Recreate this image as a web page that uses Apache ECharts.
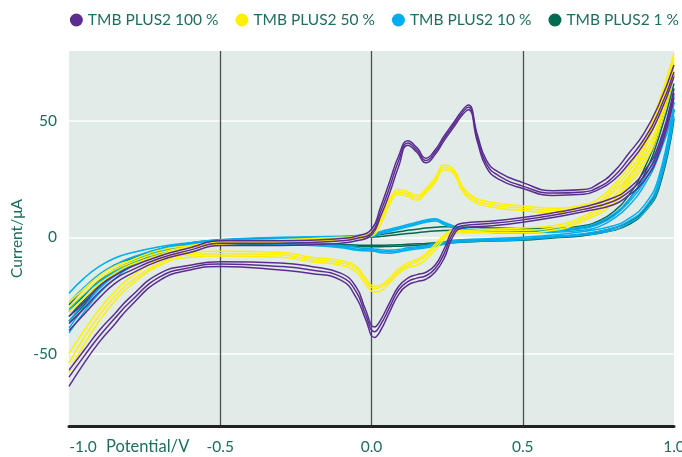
<!DOCTYPE html>
<html>
<head>
<meta charset="utf-8">
<script src="https://cdn.jsdelivr.net/npm/echarts@6/dist/echarts.min.js"></script>
<style>
  html, body { margin: 0; padding: 0; background: #fff; }
  #cv { width: 682px; height: 457px; }
</style>
</head>
<body>
<div id="cv"></div>
<script>
// potentials of the forward (anodic) sweep and the return (cathodic) sweep, V
var potForward = [-1.0, -0.95, -0.9, -0.85, -0.8, -0.7, -0.6, -0.5, -0.3, -0.1, -0.05, 0.0, 0.03, 0.06, 0.09, 0.12, 0.15, 0.18,
  0.21, 0.24, 0.27, 0.30, 0.32, 0.35, 0.38, 0.42, 0.5, 0.6, 0.7, 0.75, 0.8, 0.85, 0.9, 0.95, 1.0];
var potReturn = [1.0, 0.95, 0.9, 0.85, 0.8, 0.7, 0.6, 0.5, 0.4, 0.3, 0.27, 0.24, 0.21, 0.18, 0.15, 0.12, 0.09, 0.06, 0.03, 0.01,
  -0.02, -0.05, -0.1, -0.2, -0.3, -0.5, -0.6, -0.7, -0.8, -0.85, -0.9, -0.95, -1.0];

var seriesNames = ['TMB PLUS2 100 %', 'TMB PLUS2 50 %', 'TMB PLUS2 10 %', 'TMB PLUS2 1 %'];
var seriesColors = ['#5c2d91', '#fff000', '#00aeef', '#006a53'];

// current, µA — one row per cycle
var tmb100Forward = [
  [-34, -28, -21, -16.5, -13, -8, -4.5, -1.5, -1.5, -0.5, 0.5, 3.5, 13, 24, 35, 41.5, 38.5, 34, 37.5, 43.5, 49, 54.5, 56.8, 44, 33, 28, 23.5, 20, 20.5, 23, 28, 36, 44.5, 57, 74],
  [-37, -30.5, -23.5, -18, -14.5, -9, -5.5, -2.5, -2.5, -1.5, -0.5, 2, 11, 21.5, 33, 40.5, 37.5, 33, 36.5, 42.5, 48, 53.5, 55.8, 42.5, 31.5, 26.5, 22, 19, 19.5, 21.5, 26, 33.5, 42, 54, 71],
  [-40, -33, -26, -20, -16, -10, -6.5, -3.5, -3.5, -2.5, -1.5, 1, 9, 19, 30.5, 39.5, 36.5, 32, 35.5, 41.5, 47, 52.5, 54.8, 41, 30, 25, 21, 18, 18.5, 20.5, 24.5, 31.5, 40, 52, 69]
];
var tmb100Return = [
  [64, 40, 28, 21, 17, 13, 10.5, 8.5, 7, 6, 3.5, -5, -12, -15, -16, -17.5, -21, -28, -35.5, -38.5, -31, -21.5, -15.5, -12.5, -11, -10.5, -12, -15.5, -26, -33, -40, -48.5, -57],
  [62, 38, 26, 19.5, 15.5, 12, 9.5, 7.5, 6, 5, 2, -7, -13.5, -16.5, -17.5, -19, -22.5, -30, -37.5, -40.5, -33, -23.5, -17, -14, -12.5, -11.5, -13, -17, -28, -35, -42.5, -51, -60],
  [60, 36, 24, 18, 14, 11, 8.5, 6.5, 5, 4, 0.5, -9, -15, -18, -19, -20.5, -24.5, -32, -40, -43, -35, -26, -18.5, -15.5, -14, -12.5, -14, -18.5, -30, -37.5, -45, -54, -64]
];

var tmb50Forward = [
  [-28, -22, -16.5, -12.5, -10, -5.5, -3.5, -2, -1, 0, 0.5, 2.5, 8.5, 16.5, 20.5, 19.5, 18, 21, 25.5, 31, 29.5, 22, 19, 16.5, 15.5, 14.5, 13.5, 12.5, 14, 16.5, 22.5, 30, 41, 58, 79],
  [-30, -24, -18, -14, -11, -6.5, -4, -2.5, -1.5, -0.5, 0, 1.5, 7, 15.5, 19.5, 18.5, 17, 20, 24.5, 30, 28.5, 21, 18, 15.5, 14.5, 13.5, 12.5, 11.5, 13, 15, 21, 28, 39, 56, 77],
  [-32, -26, -20, -15.5, -12, -7.5, -4.5, -3, -2, -1, -0.5, 0.5, 5.5, 14, 18.5, 17.5, 16, 19, 23.5, 29, 27.5, 20, 17, 14.5, 13.5, 12.5, 11.5, 10.5, 12, 14, 19.5, 26, 37, 54, 75]
];
var tmb50Return = [
  [74, 50, 35, 25.5, 17.5, 9, 5, 4, 3.5, 3, 3, 1, -3, -7, -9.5, -11, -13.5, -17.5, -20.5, -21, -17.5, -12.5, -10, -8.5, -6.5, -6, -6.5, -9.5, -17.5, -23.5, -31, -40, -50],
  [72, 48, 33, 24, 16, 8, 4, 3, 2.8, 2.5, 2.5, 0, -4, -8, -10.5, -12, -14.5, -18.5, -21.5, -22, -18.5, -13.5, -11, -9.5, -7.5, -7, -7.5, -11, -19.5, -25.5, -33.5, -43, -54],
  [70, 46, 31, 22.5, 14.5, 7, 3, 2, 2, 2, 1.5, -1, -5.5, -9.5, -12, -13, -15.5, -19.5, -23, -23.5, -20, -15, -12, -10.5, -8.5, -8, -8.5, -12, -21, -27.5, -36, -46, -58]
];

var tmb10Forward = [
  [-24, -17.5, -12.5, -9, -6.8, -4, -2.3, -1, 0, 0.5, 0.8, 1.2, 2.5, 3.5, 4.5, 5.5, 6.5, 7.5, 8, 6.5, 5, 4, 3.5, 3.2, 3, 3, 3, 3.5, 4.5, 6.5, 10, 16, 25, 39, 61],
  [-28, -21.5, -16, -12, -9, -5, -3, -1.5, -0.5, 0, 0.3, 0.8, 2, 3, 4, 5, 6, 7, 7.5, 6, 4.5, 3.5, 3, 2.8, 2.6, 2.5, 2.5, 2.8, 3.8, 5.5, 9, 15, 23.5, 37, 58],
  [-31, -24.5, -19, -14.5, -11, -6, -3.5, -2, -1, -0.5, -0.2, 0.3, 1.5, 2.5, 3.5, 4.5, 5.5, 6.5, 7, 5.5, 4, 3, 2.5, 2.3, 2.2, 2, 2, 2.2, 3, 4.5, 8, 13.5, 22, 35, 55]
];
var tmb10Return = [
  [58, 26, 13.5, 8, 5, 2.5, 1, 0, -0.5, -1, -1.3, -2, -2.8, -3.5, -4, -4.5, -5.2, -5.5, -5.3, -5, -4.8, -4.3, -3.5, -2.5, -2, -1.5, -2.5, -5, -11, -15, -20, -28, -36],
  [55, 24, 12, 7, 4, 1.5, 0.5, -0.5, -1, -1.5, -1.8, -2.5, -3.3, -4, -4.5, -5, -5.8, -6.2, -6, -5.5, -5.3, -5, -4, -3, -2.5, -2, -3, -6, -12, -16.5, -22, -30, -39],
  [52, 22, 10.5, 6, 3, 1, 0, -1, -1.5, -2, -2.3, -3, -3.8, -4.5, -5, -5.5, -6.3, -6.8, -6.6, -6, -5.8, -5.5, -4.5, -3.5, -3, -2.5, -3.5, -7, -13, -18, -24, -32, -41]
];

var tmb1Forward = [
  [-29, -22, -16, -12, -9.5, -5, -2.5, -1, -0.3, 0.2, 0.3, 0.6, 1.2, 1.8, 2.4, 3, 3.5, 4, 4.3, 4.5, 4.5, 4.4, 4.3, 4.2, 4.1, 4, 3.8, 3.9, 5, 7, 11, 18, 29, 46, 70],
  [-32, -25, -18.5, -14, -11, -6, -3.5, -2, -1, -0.5, -0.3, 0, 0.4, 0.8, 1.2, 1.6, 2, 2.4, 2.7, 2.9, 3, 3, 3, 2.9, 2.8, 2.7, 2.6, 2.8, 4, 6, 9.5, 16, 26.5, 43, 66]
];
var tmb1Return = [
  [55, 23, 11.5, 6.5, 4, 1.3, 0.3, -0.7, -1, -1.5, -1.7, -2, -2.3, -2.6, -2.8, -3, -3.2, -3.3, -3.4, -3.4, -3.4, -3.3, -3.1, -2.7, -2.5, -2.2, -3.2, -5.7, -11.5, -15.5, -21, -27, -34],
  [51, 21, 10.5, 5.5, 3, 0.7, -0.3, -1.3, -1.6, -2.1, -2.3, -2.6, -2.9, -3.2, -3.4, -3.6, -3.8, -3.9, -4, -4, -4, -3.9, -3.7, -3.3, -3.1, -2.8, -3.8, -6.3, -12.5, -16.5, -22, -29, -36]
];

var xTicks = [-1.0, -0.5, 0.0, 0.5, 1.0];
var yTicks = [-50, 0, 50];

(function() {
  var myChart = echarts.init(document.getElementById('cv'));
  var txt = '#1d6e5d';
  var font = 'Lato';
  var fs = 15.5;

  function pairs(xs, ys) {
    return xs.map(function(x, i) { return [x, ys[i]]; });
  }

  // one line per sweep so the two branches are not joined at the vertices
  var sets = [
    [tmb1Forward, tmb1Return, 3],
    [tmb10Forward, tmb10Return, 2],
    [tmb50Forward, tmb50Return, 1],
    [tmb100Forward, tmb100Return, 0]
  ];
  var series = [];
  sets.forEach(function(s) {
    var k = s[2];
    s[0].forEach(function(cyc, c) {
      [pairs(potForward, cyc), pairs(potReturn, s[1][c])].forEach(function(d) {
        series.push({
          name: seriesNames[k],
          type: 'line',
          data: d,
          showSymbol: false,
          symbol: 'none',
          smooth: 0.5,
          itemStyle: { color: seriesColors[k] },
          lineStyle: { color: seriesColors[k], width: 1.5 },
          emphasis: { disabled: true }
        });
      });
    });
  });

  var option = {
    animation: false,
    legend: {
      data: seriesNames,
      right: -2,
      top: 7,
      icon: 'circle',
      itemWidth: 13,
      itemHeight: 13,
      itemGap: 17,
      textStyle: { color: txt, fontSize: fs, fontFamily: font }
    },
    grid: {
      left: 69, right: 8, top: 51, bottom: 31,
      outerBoundsMode: 'none',
      containLabel: false,
      show: true,
      backgroundColor: '#e1ebe7',
      borderWidth: 0
    },
    xAxis: {
      type: 'value',
      min: -1, max: 1, interval: 0.5,
      axisLine: { onZero: false, lineStyle: { color: '#222', width: 3 } },
      axisTick: { show: false },
      axisLabel: {
        color: txt, fontSize: fs, fontFamily: font, margin: 13,
        formatter: function(v) {
          if (v === xTicks[0]) return '{l|' + v.toFixed(1) + '}';
          return v.toFixed(1);
        },
        rich: { l: { color: txt, fontSize: fs, fontFamily: font, padding: [0, 0, 0, 28] } }
      },
      splitLine: { show: true, showMinLine: false, showMaxLine: false, lineStyle: { color: '#4d4d4d', width: 1.3 } }
    },
    yAxis: {
      type: 'value',
      min: -81, max: 80, splitNumber: 3,
      name: 'Current/μA',
      nameLocation: 'middle',
      nameGap: 44,
      nameMoveOverlap: false,
      nameTextStyle: { color: txt, fontSize: fs, fontFamily: font },
      axisLine: { show: false },
      axisTick: { show: false },
      axisLabel: {
        color: txt, fontSize: fs, fontFamily: font, margin: 12,
        showMinLabel: false, showMaxLabel: false,
        formatter: function(v) { return yTicks.indexOf(v) >= 0 ? String(v) : ''; }
      },
      splitLine: { show: true, showMinLine: false, showMaxLine: false, lineStyle: { color: '#ffffff', width: 1.5 } }
    },
    graphic: [{
      type: 'text',
      left: 106,
      top: 438,
      style: { text: 'Potential/V', fill: txt, fontSize: 16.5, fontFamily: font }
    }],
    series: series
  };

  myChart.setOption(option);
  window.addEventListener('resize', function() { myChart.resize(); });
})();
</script>
</body>
</html>
